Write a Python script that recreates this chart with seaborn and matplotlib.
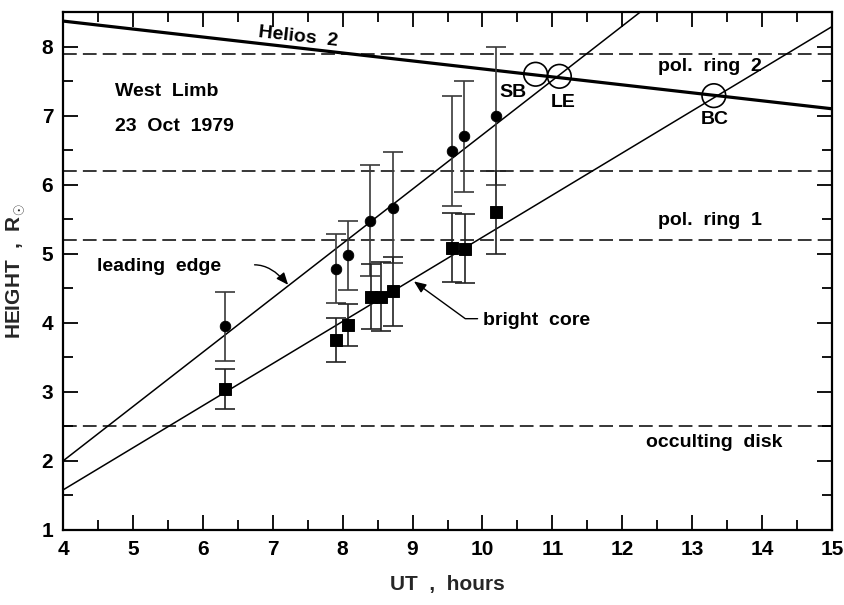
import numpy as np
import pandas as pd
import matplotlib
matplotlib.use("Agg")
import matplotlib.pyplot as plt
import seaborn as sns

# Leading-edge heights (circles) with their uncertainties
le_ut = [6.31, 7.90, 8.08, 8.39, 8.72, 9.57, 9.73, 10.19]
le_height = [3.95, 4.78, 4.98, 5.48, 5.67, 6.49, 6.70, 7.00]
le_err = [0.5, 0.5, 0.5, 0.8, 0.8, 0.8, 0.8, 1.0]

# Bright-core heights (squares) with their uncertainties
bc_ut = [6.31, 7.91, 8.08, 8.40, 8.55, 8.72, 9.57, 9.75, 10.19]
bc_height = [3.04, 3.75, 3.97, 4.38, 4.38, 4.46, 5.09, 5.07, 5.60]
bc_err = [0.29, 0.32, 0.30, 0.47, 0.50, 0.50, 0.50, 0.50, 0.60]

# Straight-line fits and the Helios 2 track, given at the plot edges
line_ut = [4.0, 15.0]
le_fit = [2.00, 10.66]
bc_fit = [1.58, 8.29]
helios = [8.37, 7.10]

# Reference heights (dashed)
ref_heights = [7.9, 6.2, 5.2, 2.5]

# Crossing points of the fits with the Helios 2 track
cross_labels = ["SB", "LE", "BC"]
cross_ut = [10.76, 11.10, 13.31]
cross_height = [7.60, 7.57, 7.29]

sns.set_theme(style="ticks")
plt.rcParams["font.family"] = ["Liberation Sans", "DejaVu Sans"]
plt.rcParams["mathtext.fontset"] = "custom"
plt.rcParams["mathtext.rm"] = "Liberation Sans:bold"
plt.rcParams["mathtext.it"] = "Liberation Sans:bold"

fig = plt.figure(figsize=(8.45, 6.05), dpi=100)
ax = fig.add_axes([0.0746, 0.124, 0.910, 0.856])

ink = "black"

# Reference levels
for h in ref_heights:
    ax.axhline(h, color=ink, lw=1.1, dashes=(9, 4), zorder=1)

# Fitted lines and Helios 2 track
lines = pd.DataFrame({
    "ut": line_ut * 3,
    "height": le_fit + bc_fit + helios,
    "kind": ["le"] * 2 + ["bc"] * 2 + ["helios"] * 2,
})
sns.lineplot(data=lines[lines.kind == "le"], x="ut", y="height",
             color=ink, lw=1.1, ax=ax, zorder=2)
sns.lineplot(data=lines[lines.kind == "bc"], x="ut", y="height",
             color=ink, lw=1.1, ax=ax, zorder=2)
sns.lineplot(data=lines[lines.kind == "helios"], x="ut", y="height",
             color=ink, lw=2.3, ax=ax, zorder=2)

# Error bars
ax.errorbar(le_ut, le_height, yerr=le_err, fmt="none", ecolor="#3a3a3a",
            elinewidth=1.2, capsize=7, capthick=1.2, zorder=3)
ax.errorbar(bc_ut, bc_height, yerr=bc_err, fmt="none", ecolor="#222222",
            elinewidth=1.2, capsize=7, capthick=1.2, zorder=3)

# Measurements
sns.scatterplot(x=le_ut, y=le_height, marker="o", s=58, color=ink,
                edgecolor=ink, ax=ax, zorder=4)
sns.scatterplot(x=bc_ut, y=bc_height, marker="s", s=70, color=ink,
                edgecolor=ink, ax=ax, zorder=4)

# Open circles where the fits meet the Helios 2 track
sns.scatterplot(x=cross_ut, y=cross_height, marker="o", s=290,
                facecolor="none", edgecolor=ink, linewidth=1.2, ax=ax, zorder=5)

tfont = dict(fontsize=14, fontweight="bold", color=ink)
label_pos = {"SB": (10.43, 7.34), "LE": (11.15, 7.19), "BC": (13.33, 6.95)}
for name in cross_labels:
    x, y = label_pos[name]
    ax.text(x, y, name, ha="center", va="center", **tfont)

ax.text(7.36, 8.14, "Helios  2", ha="center", va="center", rotation=-6.4,
        **tfont)
ax.text(13.26, 7.71, "pol.  ring  2", ha="center", va="center", **tfont)
ax.text(13.26, 5.48, "pol.  ring  1", ha="center", va="center", **tfont)
ax.text(13.32, 2.26, "occulting  disk", ha="center", va="center", **tfont)
ax.text(4.74, 7.35, "West  Limb", ha="left", va="center", **tfont)
ax.text(4.74, 6.84, "23  Oct  1979", ha="left", va="center", **tfont)

ax.text(4.48, 4.82, "leading  edge", ha="left", va="center", **tfont)
ax.annotate("", xy=(7.22, 4.55), xytext=(6.74, 4.84),
            arrowprops=dict(arrowstyle="-|>,head_length=0.6,head_width=0.25",
                            connectionstyle="angle3,angleA=0,angleB=-50",
                            color=ink, lw=1.0, shrinkA=0, shrinkB=0))

ax.text(10.01, 4.04, "bright  core", ha="left", va="center", **tfont)
ax.annotate("", xy=(9.02, 4.60), xytext=(9.93, 4.06),
            arrowprops=dict(arrowstyle="-|>,head_length=0.6,head_width=0.25",
                            connectionstyle="angle,angleA=0,angleB=-36,rad=0",
                            color=ink, lw=1.0, shrinkA=0, shrinkB=0))

# Axes
ax.set_xlim(4, 15)
ax.set_ylim(1, 8.5)
ax.set_xticks(np.arange(4, 16, 1))
ax.set_xticks(np.arange(4.5, 15, 1), minor=True)
ax.set_yticks(np.arange(1, 9, 1))
ax.set_yticks(np.arange(1.5, 8.5, 1), minor=True)
ax.tick_params(which="both", direction="in", top=True, right=True,
               width=1.3, colors=ink, labelsize=15, pad=7)
ax.tick_params(which="major", length=11)
ax.tick_params(which="minor", length=7)
for lab in ax.get_xticklabels() + ax.get_yticklabels():
    lab.set_fontweight("bold")
for sp in ax.spines.values():
    sp.set_visible(True)
    sp.set_linewidth(1.6)
    sp.set_color(ink)

ax.set_xlabel("UT  ,  hours", fontsize=15, fontweight="bold", labelpad=12)
ax.set_ylabel(r"HEIGHT  ,  R$_{\odot}$", fontsize=15, fontweight="bold",
              labelpad=10)
ax.grid(False)

fig.savefig("out.png", dpi=100, facecolor="white")
